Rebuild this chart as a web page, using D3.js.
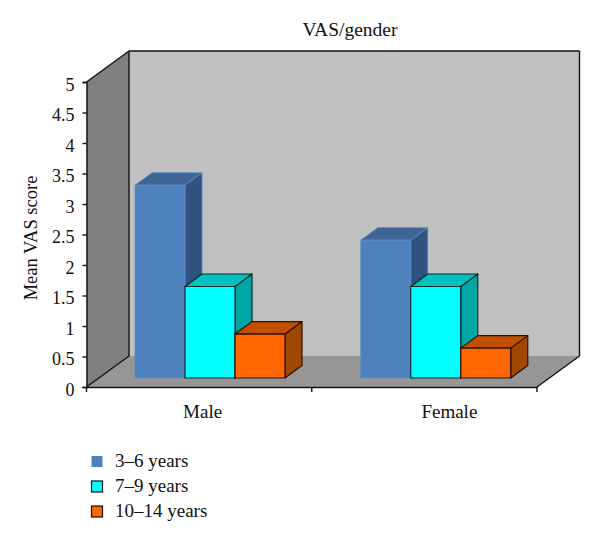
<!DOCTYPE html>
<html><head><meta charset="utf-8">
<script src="https://cdn.jsdelivr.net/npm/d3@7"></script>
<style>html,body{margin:0;background:#fff}svg{display:block}text{font-family:"Liberation Serif",serif;fill:#111}</style>
</head><body><svg id="c" width="600" height="543"></svg>
<script>
const title = "VAS/gender";
const yTitle = "Mean VAS score";
const categories = ["Male", "Female"];
const seriesNames = ["3–6 years", "7–9 years", "10–14 years"];
const s36 = [3.16, 2.26];
const s79 = [1.5, 1.5];
const s1014 = [0.72, 0.49];
const yTicks = [0, 0.5, 1, 1.5, 2, 2.5, 3, 3.5, 4, 4.5, 5];
const seriesValues = [s36, s79, s1014];
const fronts = ["#4f81bd", "#00ffff", "#ff6600"];
const tops = ["#3e6596", "#00c0c0", "#c05000"];
const sides = ["#305280", "#00a5a5", "#a04800"];
const strokes = ["#5b8bc4", "#0b2b2b", "#2a1200"];

const svg = d3.select("#c");
const x = d3.scaleBand().domain(categories).range([86.5, 537]);
const y = d3.scaleLinear().domain([0, 5]).range([387, 82]);
const inner = d3.scaleBand().domain(seriesNames).range([48.5, 198.5]);
const D = {x: 42.5, y: -31};     // full wall depth
const B = {x: 17, y: -12.5};     // bar depth
const O = {x: 0, y: -9};         // bar offset into the floor
const poly = (pts, f, s, w) => svg.append("path").attr("d", "M" + pts.map(p => p.join(",")).join("L") + "Z")
  .attr("fill", f).attr("stroke", s || "none").attr("stroke-width", w || 0).attr("stroke-linejoin", "round");
const line = (a, b, w) => svg.append("line").attr("x1", a[0]).attr("y1", a[1]).attr("x2", b[0]).attr("y2", b[1])
  .attr("stroke", "#111").attr("stroke-width", w || 1.4);

const xL = x.range()[0], xR = x.range()[1], y0 = y(0), y5 = y(5);
// back wall
poly([[xL + D.x, y5 + D.y], [xR + D.x, y5 + D.y], [xR + D.x, y0 + D.y], [xL + D.x, y0 + D.y]], "#c0c0c0");
// floor
poly([[xL, y0], [xL + D.x, y0 + D.y], [xR + D.x, y0 + D.y], [xR, y0]], "#969696");
// side wall
poly([[xL, y5], [xL + D.x, y5 + D.y], [xL + D.x, y0 + D.y], [xL, y0]], "#808080");
// wall edges
line([xL + D.x, y5 + D.y], [xR + D.x, y5 + D.y]);
line([xR + D.x, y5 + D.y], [xR + D.x, y0 + D.y]);
line([xL + D.x, y5 + D.y], [xL + D.x, y0 + D.y]);
line([xL, y5], [xL + D.x, y5 + D.y]);
line([xL, y0], [xL + D.x, y0 + D.y]);
line([xR, y0], [xR + D.x, y0 + D.y]);

// bars
categories.forEach((c, ci) => {
  seriesNames.forEach((s, si) => {
    const v = seriesValues[si][ci];
    const l = x(c) + inner(s) + (ci ? 0.5 : 0), r = l + inner.bandwidth();
    const b = y(0) + O.y, t = y(v) + O.y;
    const sc = strokes[si], w = si === 0 ? 0.8 : 1.2;
    poly([[r, t], [r + B.x, t + B.y], [r + B.x, b + B.y], [r, b]], sides[si], sc, w);
    poly([[l, t], [l + B.x, t + B.y], [r + B.x, t + B.y], [r, t]], tops[si], sc, w);
    poly([[l, t], [r, t], [r, b], [l, b]], fronts[si], sc, w);
  });
});

// y axis
const yAxis = svg.append("g").attr("transform", `translate(${xL},0)`)
  .call(d3.axisLeft(y).tickValues(yTicks).tickSize(4).tickPadding(8).tickFormat(d3.format("")));
yAxis.selectAll("path,line").attr("stroke", "#111").attr("stroke-width", 1.4);
yAxis.selectAll("text").attr("font-size", 18).attr("font-family", '"Liberation Serif",serif')
  .attr("transform", "translate(0,2.5)");
// x axis
const labelShift = [3.5, 25];
const xAxis = svg.append("g").attr("transform", `translate(0,${y0})`)
  .call(d3.axisBottom(x).tickSize(0).tickPadding(18));
xAxis.selectAll("path").attr("stroke", "#111").attr("stroke-width", 1.4);
xAxis.selectAll("text").attr("font-size", 19).attr("font-family", '"Liberation Serif",serif')
  .attr("transform", (d, i) => `translate(${labelShift[i]},0)`);
[xL, x("Female"), xR].forEach(px => line([px, y0], [px, y0 + 5]));

svg.append("text").attr("x", 350).attr("y", 36).attr("text-anchor", "middle").attr("font-size", 19.5).text(title);
svg.append("text").attr("transform", "translate(37,238) rotate(-90)").attr("text-anchor", "middle").attr("font-size", 18.5).text(yTitle);

// legend
const legendY = d3.scalePoint().domain(seriesNames).range([461.5, 511.5]);
seriesNames.forEach((s, i) => {
  svg.append("rect").attr("x", 91.5).attr("y", legendY(s) - 5.5).attr("width", 11).attr("height", 11)
    .attr("fill", fronts[i]).attr("stroke", i ? "#111" : "none").attr("stroke-width", 1.2);
  svg.append("text").attr("x", 115).attr("y", legendY(s) + 5).attr("font-size", 19).text(s);
});
</script></body></html>
